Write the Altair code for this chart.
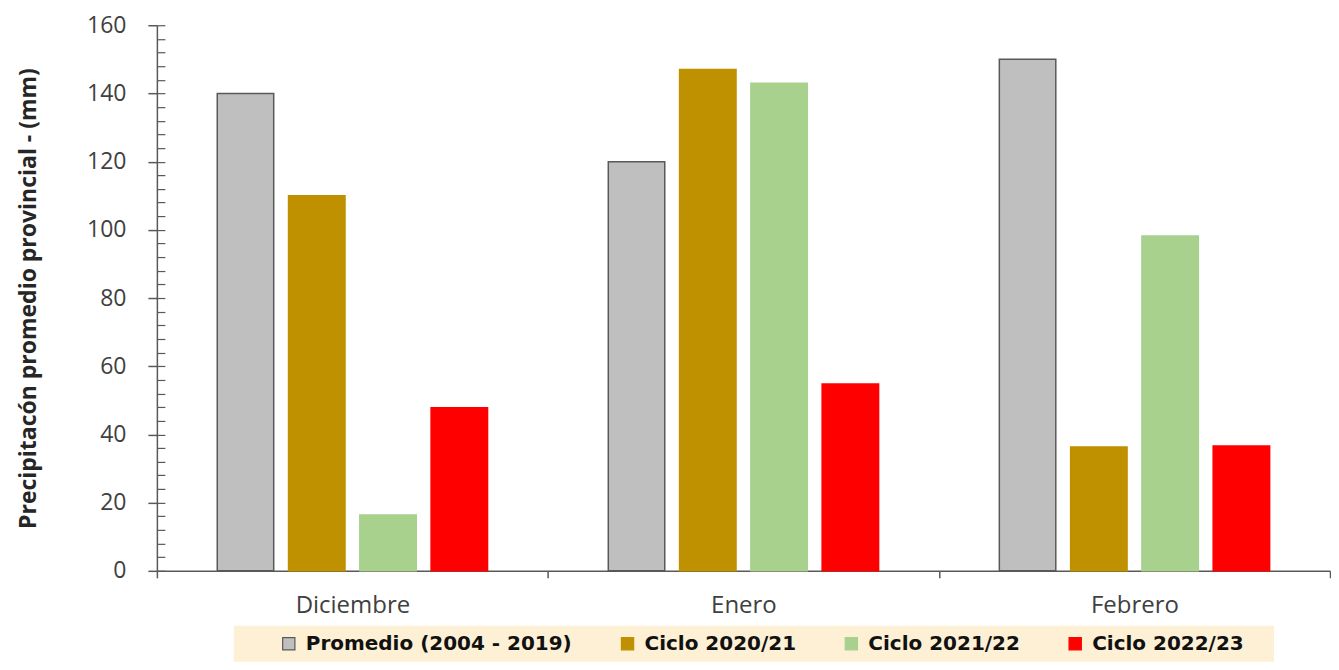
import altair as alt
import pandas as pd

months = ["Diciembre", "Enero", "Febrero"]
series = ["Promedio (2004 - 2019)", "Ciclo 2020/21", "Ciclo 2021/22", "Ciclo 2022/23"]
promedio = [140, 120, 150]
ciclo_2021 = [110, 147, 36.3]
ciclo_2122 = [16.4, 143, 98.2]
ciclo_2223 = [47.8, 54.8, 36.6]
fill_colors = ["#BFBFBF", "#BF9000", "#A9D18E", "#FF0000"]
stroke_colors = ["#595959", "#BF9000", "#A9D18E", "#FF0000"]
y_major = list(range(0, 161, 20))
y_minor = list(range(0, 161, 4))

rows = []
for s, vals in zip(series, [promedio, ciclo_2021, ciclo_2122, ciclo_2223]):
    for m, v in zip(months, vals):
        rows.append({"Mes": m, "Serie": s, "Valor": v})
df = pd.DataFrame(rows)

LEG_FONT = "DejaVu Sans"
AX_FONT = "Open Sans"

x = alt.X("Mes:N", sort=months, title=None,
          scale=alt.Scale(paddingInner=0, paddingOuter=0),
          axis=alt.Axis(labelAngle=0, labelFontSize=24, labelColor="#404040",
                        labelFont=AX_FONT, labelPadding=16,
                        tickBand="extent", tickSize=7, tickColor="#595959",
                        domainColor="#595959", domainWidth=1.5, tickWidth=1.5))
xo = alt.XOffset("Serie:N", sort=series,
                 scale=alt.Scale(paddingInner=0.208, paddingOuter=0.847))
color = alt.Color("Serie:N", sort=series,
                  scale=alt.Scale(domain=series, range=fill_colors),
                  legend=alt.Legend(title=" ", titleOrient="right", titlePadding=22,
                                    titleFontSize=8,
                                    orient="none", legendX=77, legendY=601,
                                    direction="horizontal", columns=4,
                                    fillColor="#FDF0D5", padding=8,
                                    columnPadding=8, symbolOffset=37,
                                    labelOffset=7, symbolType="square",
                                    symbolSize=150, symbolStrokeWidth=1.2,
                                    labelFont=LEG_FONT, labelFontSize=20,
                                    labelFontWeight="bold", labelColor="#111111",
                                    labelLimit=400, offset=0))
stroke = alt.Stroke("Serie:N", sort=series,
                    scale=alt.Scale(domain=series, range=stroke_colors), legend=None)

ysc = alt.Scale(domain=[0, 160], nice=False)

bars = alt.Chart(df).mark_bar(strokeWidth=1.5).encode(
    x=x, xOffset=xo,
    y=alt.Y("Valor:Q", title="Precipitacón promedio provincial - (mm)", scale=ysc,
            axis=alt.Axis(values=y_major, labelFontSize=23, labelColor="#404040",
                          labelFont=AX_FONT, labelPadding=22, tickSize=9,
                          tickColor="#595959", tickWidth=1.5, domainColor="#595959",
                          domainWidth=1.5, grid=False, titleFont=AX_FONT,
                          titleFontSize=23, titleFontWeight="bold", titleColor="#262626",
                          titlePadding=46)),
    color=color, stroke=stroke,
)

minor = alt.Chart(df).mark_bar(opacity=0).encode(
    x=x, xOffset=xo,
    y=alt.Y("Valor:Q", scale=ysc,
            axis=alt.Axis(orient="left", values=y_minor, labels=False, domain=False,
                          title=None, tickSize=8, offset=-8, tickColor="#595959",
                          tickWidth=1.2, grid=False)),
)

chart = alt.layer(bars, minor).resolve_axis(y="independent").properties(
    width=1174, height=546, padding={"top": 6, "left": 9, "right": 0, "bottom": 0}
).configure_view(stroke=None)

chart.save("out.html", embed_options={"renderer": "svg", "actions": False})
